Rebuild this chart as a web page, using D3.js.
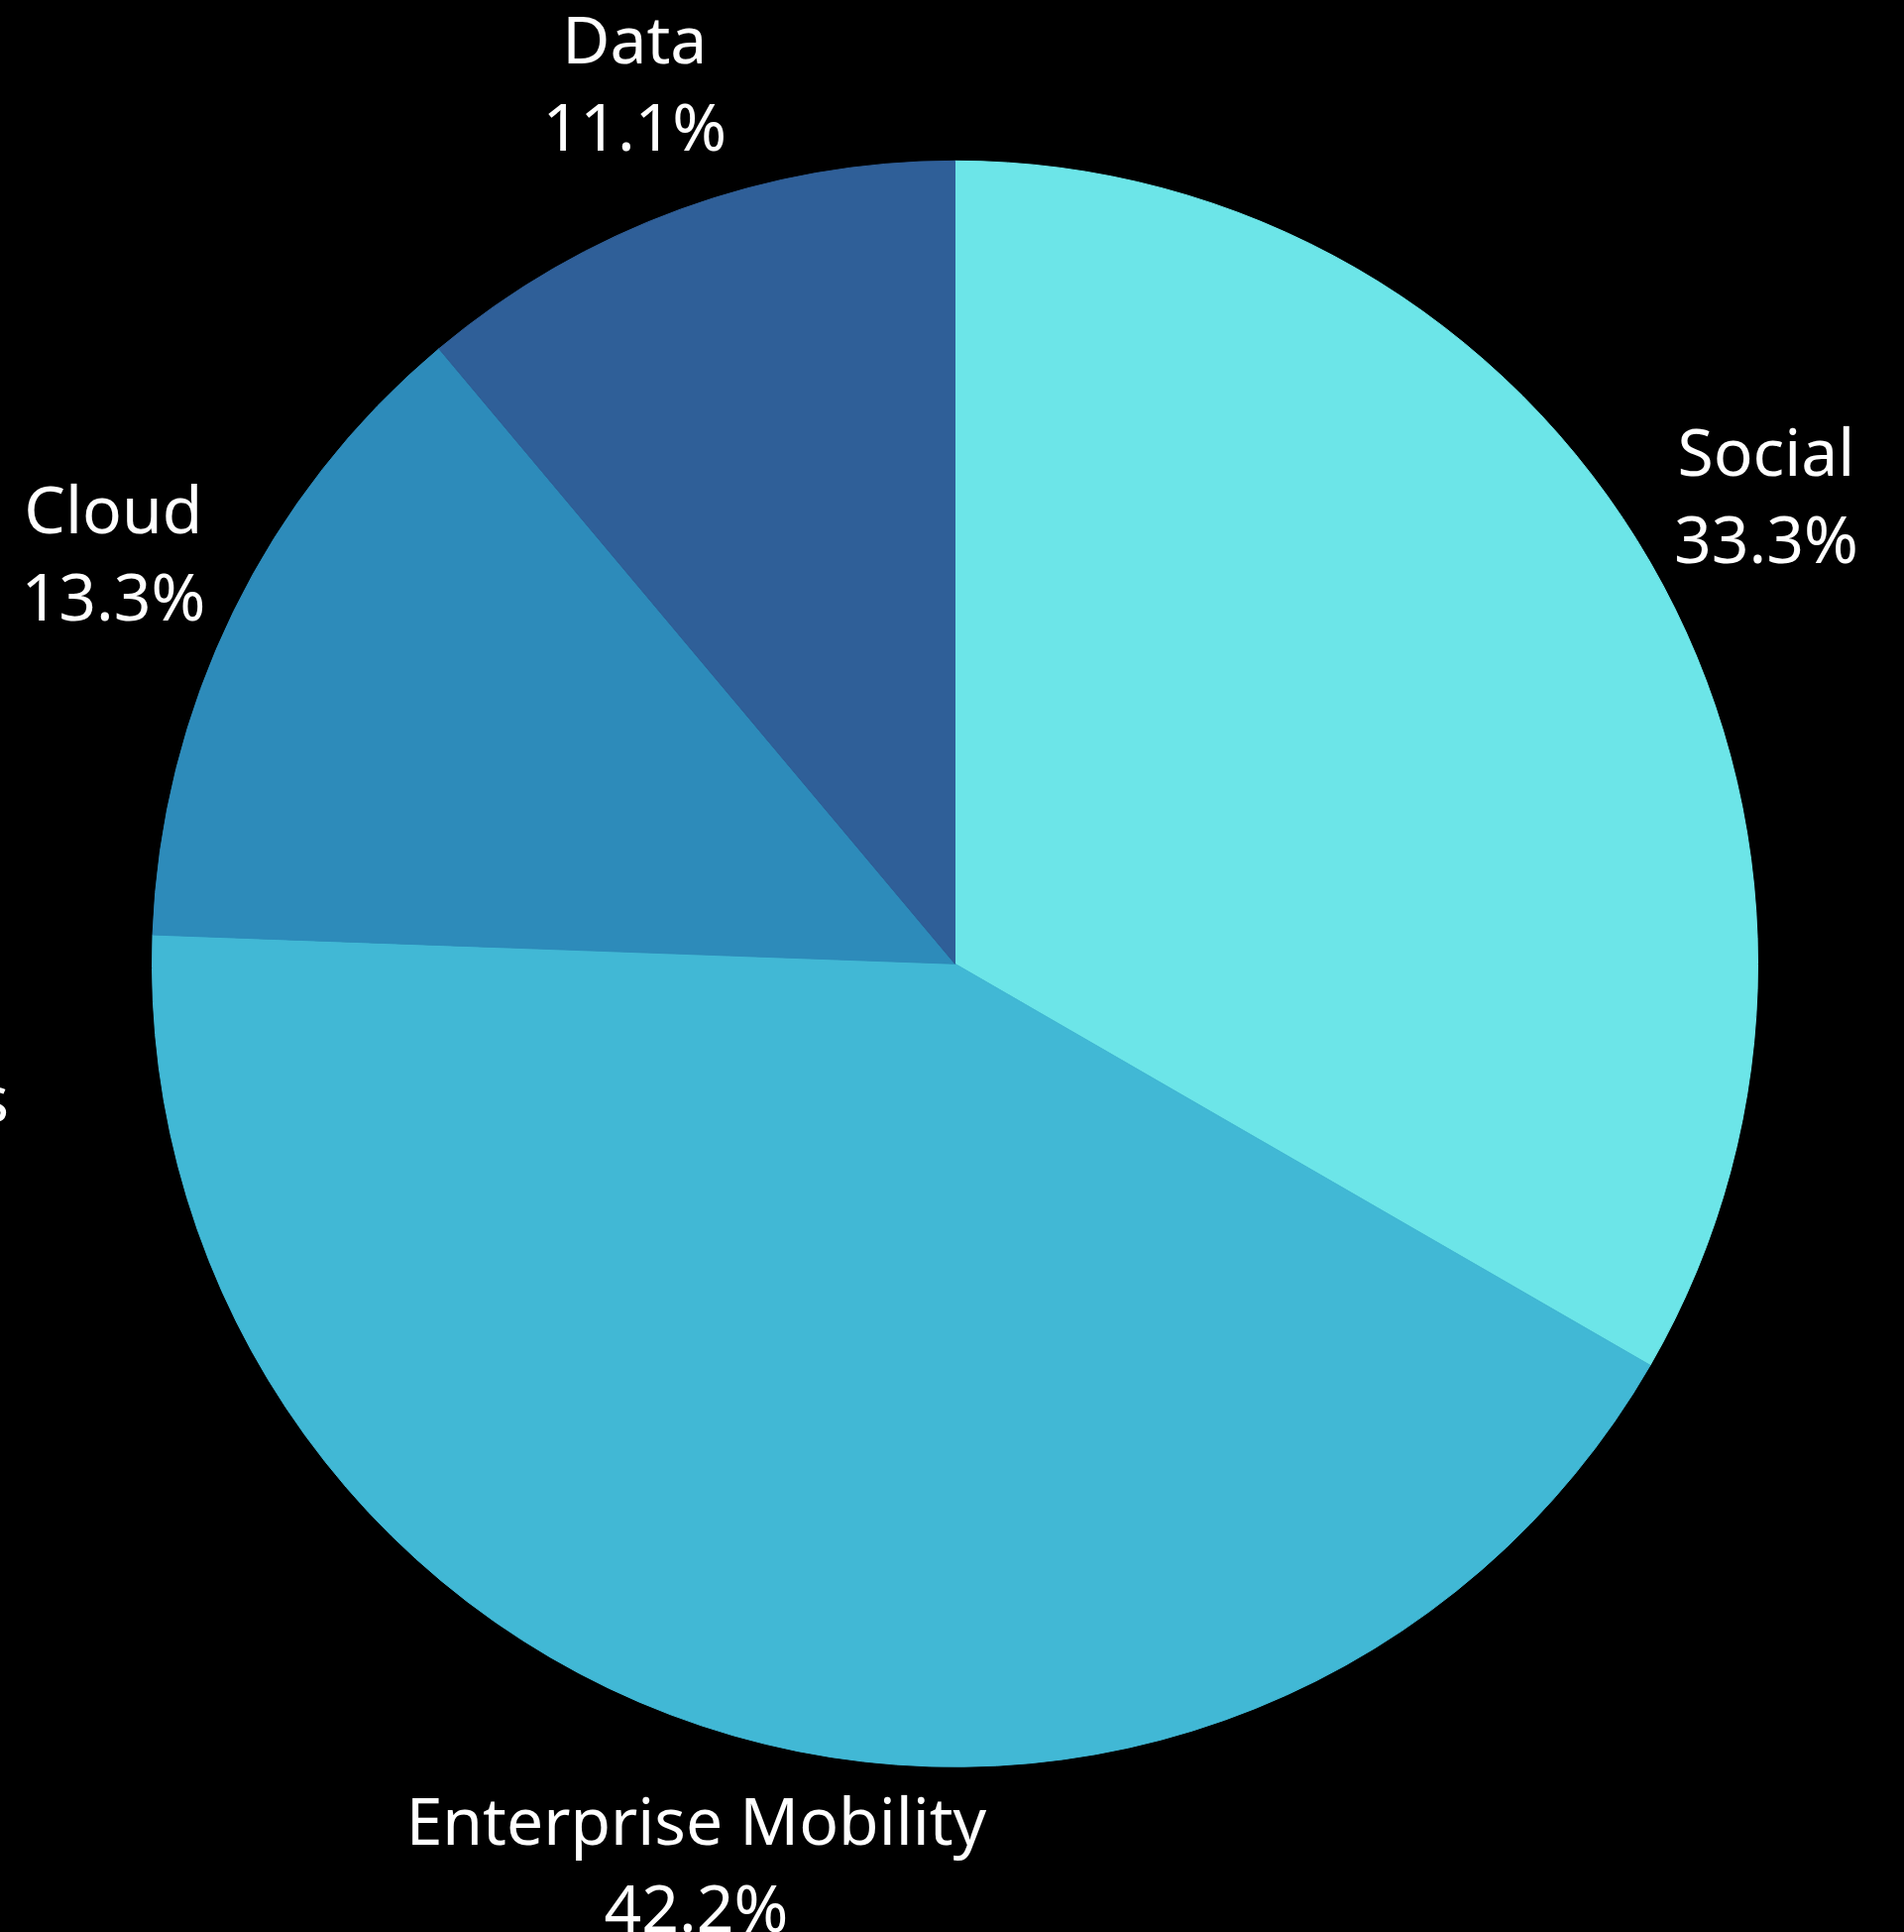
<!DOCTYPE html>
<html>
<head>
<meta charset="utf-8">
<script src="https://cdn.jsdelivr.net/npm/d3@7"></script>
<style>
  html, body { margin: 0; padding: 0; background: #000; overflow: hidden; }
  svg { display: block; }
</style>
</head>
<body>
<svg id="chart" width="1921" height="1949"></svg>
<script>
const categories = ["Social", "Enterprise Mobility", "Cloud", "Data"];
const values = [33.3, 42.2, 13.3, 11.1];
const colors = ["#6ce5e8", "#41b8d5", "#2d8bba", "#2f5f98"];
const clippedLabel = "Analytics";

const W = 1921, H = 1949;
const cx = 963.5, cy = 972.3, R = 810;
const labelR = 945;
const fontSize = 66;
const capH = 48, lineGap = 88;

const svg = d3.select("#chart");
svg.append("rect").attr("width", W).attr("height", H).attr("fill", "#000");

const data = categories.map((c, i) => ({ name: c, value: values[i], color: colors[i] }));
const pie = d3.pie().sort(null).value(d => d.value).startAngle(0).endAngle(2 * Math.PI);
const arcs = pie(data);
const arc = d3.arc().innerRadius(0).outerRadius(R);
const labelArc = d3.arc().innerRadius(labelR).outerRadius(labelR);

const g = svg.append("g").attr("transform", `translate(${cx},${cy})`);

g.selectAll("path.slice").data(arcs).join("path")
  .attr("class", "slice")
  .attr("d", arc)
  .attr("fill", d => d.data.color)
  .attr("stroke", d => d.data.color)
  .attr("stroke-width", 1);

const fmt = d3.format(".1f");
const labels = g.selectAll("g.lbl").data(arcs).join("g").attr("class", "lbl")
  .attr("transform", d => { const [x, y] = labelArc.centroid(d); return `translate(${x},${y})`; });

labels.append("text")
  .attr("text-anchor", "middle")
  .attr("y", -(capH + lineGap) / 2 + capH)
  .attr("fill", "#fff")
  .attr("font-family", "'Noto Sans', sans-serif")
  .attr("font-size", fontSize)
  .text(d => d.data.name);

labels.append("text")
  .attr("text-anchor", "middle")
  .attr("y", -(capH + lineGap) / 2 + capH + lineGap)
  .attr("fill", "#fff")
  .attr("font-family", "'Noto Sans', sans-serif")
  .attr("font-size", fontSize)
  .text(d => fmt(d.data.value) + "%");

// label clipped at the left edge of the canvas (only its last letter shows)
svg.append("text")
  .attr("x", 9).attr("y", 1132)
  .attr("text-anchor", "end")
  .attr("fill", "#fff")
  .attr("font-family", "'Noto Sans', sans-serif")
  .attr("font-size", fontSize)
  .text(clippedLabel);
</script>
</body>
</html>
